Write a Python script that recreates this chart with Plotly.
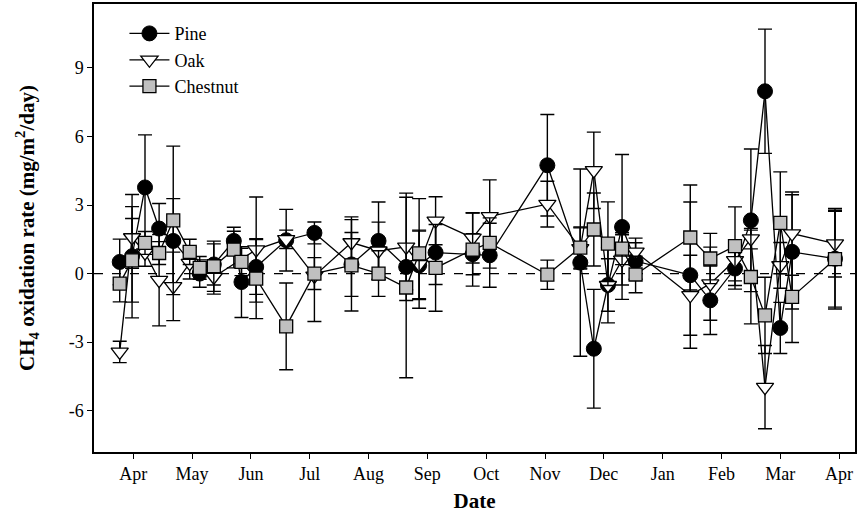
import plotly.graph_objects as go

# Sampling dates, in months counted from 1 April (0 = Apr, 12 = next Apr)
month_ticks = list(range(13))
month_labels = ["Apr", "May", "Jun", "Jul", "Aug", "Sep", "Oct",
                "Nov", "Dec", "Jan", "Feb", "Mar", "Apr"]

# Pine
pine_t = [-0.23, -0.02, 0.20, 0.44, 0.68, 1.13, 1.37, 1.71, 1.84, 2.09, 2.60,
          3.08, 3.71, 4.17, 4.64, 4.86, 5.14, 5.77, 6.06, 7.04, 7.60, 7.83,
          8.07, 8.31, 8.54, 9.47, 9.81, 10.23, 10.50, 10.74, 11.00, 11.20, 11.93]
pine_rate = [0.51, 0.76, 3.77, 1.97, 1.43, 0.00, 0.40, 1.43, -0.37, 0.29, 1.46,
             1.78, 0.40, 1.43, 0.29, 0.36, 0.92, 0.85, 0.80, 4.74, 0.48, -3.29,
             -0.50, 2.04, 0.55, -0.07, -1.17, 0.22, 2.33, 7.98, -2.38, 0.95, 0.65]
pine_se = [1.00, 2.70, 2.30, 1.10, 1.85, 0.60, 0.90, 0.60, 1.55, 1.20, 1.35,
           0.48, 1.40, 1.70, 1.00, 1.50, 1.40, 0.90, 1.40, 2.22, 4.10, 2.60,
           1.15, 3.17, 0.80, 3.20, 1.50, 0.90, 3.12, 2.72, 1.12, 2.50, 2.20]

# Oak
oak_t = [-0.23, -0.02, 0.20, 0.44, 0.68, 0.96, 1.37, 2.09, 2.60, 3.08, 3.71,
         4.17, 4.64, 4.86, 5.14, 5.77, 6.06, 7.04, 7.60, 7.83, 8.07, 8.31,
         8.54, 9.47, 9.81, 10.23, 10.50, 10.74, 11.00, 11.20, 11.93]
oak_rate = [-3.43, 1.58, 0.92, -0.29, -0.56, 0.46, -0.15, 1.05, 1.50, -0.10, 1.36,
            1.00, 1.17, 0.40, 2.31, 1.56, 2.50, 3.04, 1.10, 4.52, -0.51, 0.60,
            0.95, -0.95, -0.44, 0.58, 1.53, -4.97, 0.36, 1.75, 1.31]
oak_se = [0.47, 1.35, 0.60, 2.00, 1.50, 0.70, 0.75, 2.30, 0.40, 2.00, 1.12,
          1.25, 2.35, 1.50, 1.05, 1.10, 1.60, 1.00, 0.90, 1.67, 1.65, 1.10,
          0.60, 1.75, 1.60, 0.90, 0.45, 1.82, 1.00, 1.82, 1.46]

# Chestnut
chestnut_t = [-0.23, -0.02, 0.20, 0.44, 0.68, 0.96, 1.13, 1.37, 1.71, 1.84, 2.09,
              2.60, 3.08, 3.71, 4.17, 4.64, 4.86, 5.14, 5.77, 6.06, 7.04, 7.60,
              7.83, 8.07, 8.31, 8.54, 9.47, 9.81, 10.23, 10.50, 10.74, 11.00,
              11.20, 11.93]
chestnut_rate = [-0.44, 0.58, 1.34, 0.90, 2.33, 0.95, 0.25, 0.32, 1.05, 0.51, -0.22,
                 -2.31, 0.00, 0.36, 0.00, -0.61, 0.88, 0.25, 1.05, 1.34, -0.05, 1.14,
                 1.93, 1.31, 1.09, -0.04, 1.58, 0.66, 1.20, -0.15, -1.83, 2.22,
                 -1.02, 0.63]
chestnut_se = [0.80, 1.83, 0.50, 0.50, 3.25, 0.55, 0.50, 1.10, 0.80, 0.60, 1.75,
               1.90, 0.70, 2.00, 1.00, 3.95, 2.40, 1.90, 1.60, 1.10, 0.64, 0.90,
               1.60, 1.83, 0.70, 0.80, 2.30, 1.10, 1.72, 2.05, 1.67, 2.23,
               2.00, 2.10]

SERIF = "Liberation Serif, Times New Roman, serif"

series = [
    ("Pine", pine_t, pine_rate, pine_se,
     dict(symbol="circle", size=15, color="black", line=dict(color="black", width=1))),
    ("Oak", oak_t, oak_rate, oak_se,
     dict(symbol="triangle-down", size=15, color="white", line=dict(color="black", width=1.3))),
    ("Chestnut", chestnut_t, chestnut_rate, chestnut_se,
     dict(symbol="square", size=13, color="#c0c0c0", line=dict(color="black", width=1.3))),
]

fig = go.Figure()
for i, (name, t, rate, se, marker) in enumerate(series):
    fig.add_trace(go.Scatter(
        x=t, y=rate, name=name, mode="lines+markers",
        line=dict(color="black", width=1.3),
        marker=marker,
        error_y=dict(type="data", array=se, visible=True,
                     color="black", thickness=1.4, width=7),
        legendgroup=f"g{i}",
    ))

# Zero reference line
fig.add_shape(type="line", xref="paper", yref="y", x0=0, x1=1, y0=0, y1=0,
              line=dict(color="black", width=1.3, dash="dash"), layer="below")

axis_common = dict(
    showline=True, linecolor="black", linewidth=1.5, mirror=True,
    ticks="outside", ticklen=5, tickwidth=1.3, tickcolor="black",
    showgrid=False, zeroline=False,
    tickfont=dict(family=SERIF, size=18, color="black"),
)

fig.update_layout(
    width=859, height=521,
    margin=dict(l=94, r=2, t=4, b=69),
    paper_bgcolor="white", plot_bgcolor="white",
    showlegend=True,
    legend=dict(x=0.04, y=0.975, xanchor="left", yanchor="top",
                font=dict(family=SERIF, size=18, color="black"),
                bgcolor="rgba(0,0,0,0)", tracegroupgap=0, itemwidth=40),
    xaxis=dict(
        **axis_common,
        range=[-0.667, 12.27],
        tickmode="array", tickvals=month_ticks, ticktext=month_labels,
        title=dict(text="Date", standoff=10,
                   font=dict(family=SERIF, size=21, color="black", weight="bold")),
    ),
    yaxis=dict(
        **axis_common,
        range=[-7.81, 11.8],
        tickmode="array", tickvals=[-6, -3, 0, 3, 6, 9],
        ticktext=["-6", "-3", "0", "3", "6", "9"],
        title=dict(text="CH<sub>4</sub> oxidation rate (mg/m<sup>2</sup>/day)", standoff=28,
                   font=dict(family=SERIF, size=21, color="black", weight="bold")),
    ),
)

fig.write_html("out.html")
